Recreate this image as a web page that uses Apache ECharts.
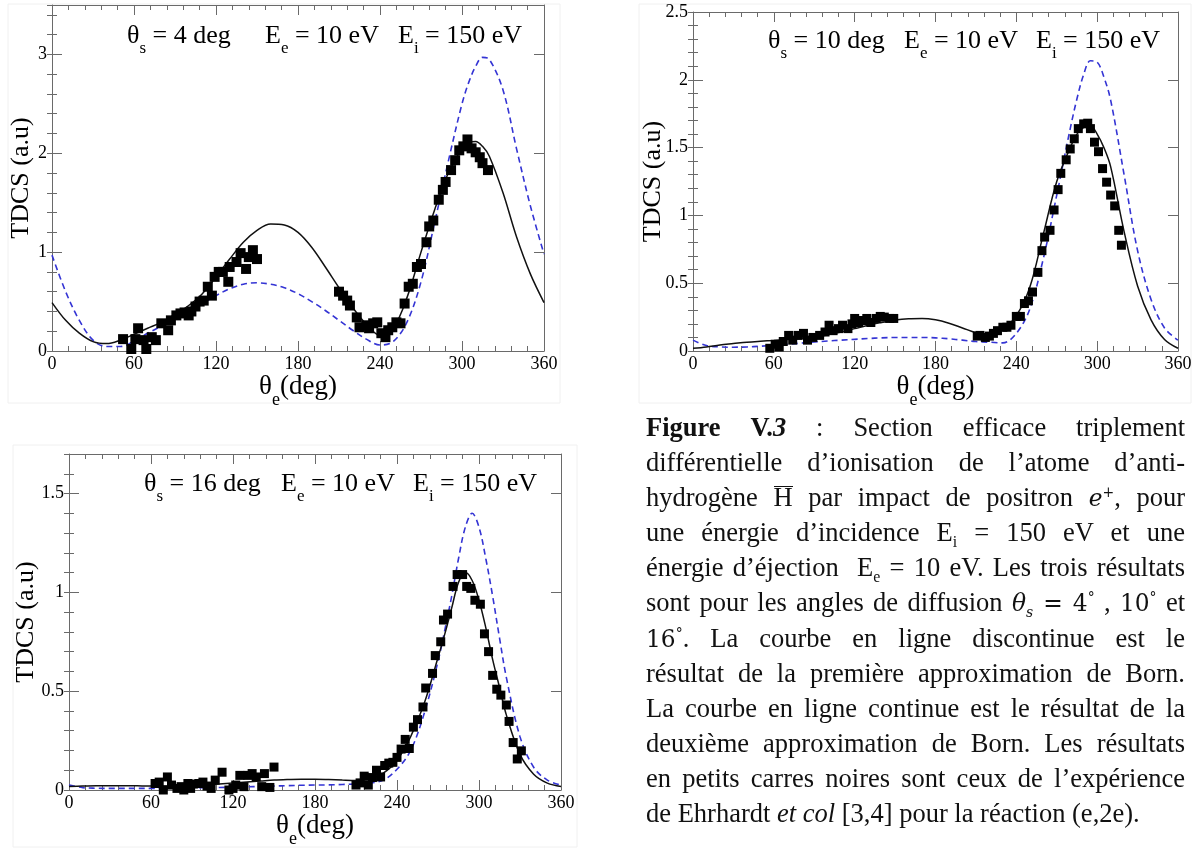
<!DOCTYPE html>
<html>
<head>
<meta charset="utf-8">
<script src="https://cdn.jsdelivr.net/npm/echarts@6/dist/echarts.min.js"></script>
<style>
html,body{margin:0;padding:0;background:#fff;}
#chart{position:absolute;left:0;top:0;width:1196px;height:849px;}
#cap{position:absolute;left:646px;top:410px;width:539px;font-family:"Liberation Serif","Times New Roman",serif;font-size:26.5px;color:#111;}
#cap div{height:35.1px;line-height:35.1px;text-align:justify;text-align-last:justify;}
#cap div.last{text-align-last:left;}
#cap sub,#cap sup{font-size:0.6em;line-height:0;}
#cap .m{font-family:"DejaVu Serif",serif;font-size:0.88em;}
#cap .ov{display:inline-block;line-height:0.72em;border-top:1.5px solid #111;padding-top:1px;}
</style>
</head>
<body>
<div id="chart"></div>
<div id="cap">
<div><b>Figure</b> <b>V.<i>3</i></b> : Section efficace triplement</div>
<div>différentielle d’ionisation de l’atome d’anti-</div>
<div>hydrogène <span class="ov">H</span> par impact de positron <span class="m"><i>e</i><sup>+</sup></span>, pour</div>
<div>une énergie d’incidence E<sub>i</sub> = 150 eV et une</div>
<div>énergie d’éjection &nbsp;E<sub>e</sub> = 10 eV. Les trois résultats</div>
<div>sont pour les angles de diffusion <span class="m"><i>θ<sub>s</sub></i> = 4<sup>°</sup></span> , <span class="m">10<sup>°</sup></span> et</div>
<div><span class="m">16<sup>°</sup></span>. La courbe en ligne discontinue est le</div>
<div>résultat de la première approximation de Born.</div>
<div>La courbe en ligne continue est le résultat de la</div>
<div>deuxième approximation de Born. Les résultats</div>
<div>en petits carres noires sont ceux de l’expérience</div>
<div class="last">de Ehrhardt <i>et col</i> [3,4] pour la réaction (e,2e).</div>
</div>
<script>
// ---------- DATA ----------
const xTicks = [0, 60, 120, 180, 240, 300, 360];
const yTicks4 = [0, 1, 2, 3];
const yTicks10 = [0, 0.5, 1, 1.5, 2, 2.5];
const yTicks16 = [0, 0.5, 1, 1.5];
const yMax4 = 3.5, yMax10 = 2.5, yMax16 = 1.7;

// theta_s = 4 deg
const th4 = [0,10,20,30,40,50,60,70,80,90,100,110,120,130,140,150,160,170,180,190,200,210,220,230,240,250,260,270,280,290,300,305,310,315,320,330,340,350,360];
const born2_4 = [0.49,0.31,0.18,0.095,0.075,0.11,0.17,0.23,0.29,0.37,0.46,0.58,0.75,0.93,1.10,1.22,1.285,1.275,1.20,1.05,0.85,0.64,0.44,0.27,0.16,0.24,0.55,1.00,1.43,1.80,2.05,2.11,2.12,2.07,1.97,1.60,1.15,0.78,0.49];
const born1_4 = [0.97,0.60,0.31,0.11,0.045,0.045,0.10,0.18,0.25,0.32,0.40,0.48,0.56,0.63,0.675,0.69,0.675,0.64,0.58,0.50,0.41,0.31,0.21,0.12,0.06,0.10,0.30,0.70,1.30,1.92,2.50,2.72,2.88,2.97,2.95,2.64,2.04,1.47,0.98];
const expTheta4 = [52,58,61,63,67,69,73,76,80,85,87,91,94,97,100,102,105,108,111,114,117,119,122,125,129,130,135,138,142,144,147,150,
  210,213,216,218,223,225,230,232,235,238,241,244,246,249,252,255,258,261,264,267,270,274,276,279,283,286,288,292,295,298,301,304,307,310,313,315,319];
const expTdcs4 = [0.12,0.02,0.12,0.23,0.11,0.02,0.14,0.11,0.28,0.21,0.31,0.36,0.38,0.39,0.36,0.40,0.45,0.50,0.51,0.65,0.56,0.75,0.80,0.80,0.70,0.85,0.90,0.99,0.83,0.95,1.02,0.93,
  0.60,0.56,0.51,0.46,0.34,0.24,0.26,0.23,0.28,0.29,0.18,0.14,0.21,0.24,0.29,0.28,0.48,0.65,0.68,0.85,0.88,1.10,1.26,1.32,1.53,1.63,1.71,1.83,1.93,2.03,2.07,2.14,2.05,2.01,1.96,1.90,1.83];

// theta_s = 10 deg
const th10 = [0,10,20,30,40,50,60,70,80,90,100,110,120,130,140,150,160,170,180,190,200,210,220,230,240,250,260,270,280,285,290,295,300,305,310,320,330,340,350,360];
const born2_10 = [0.02,0.03,0.045,0.055,0.065,0.072,0.078,0.085,0.092,0.10,0.12,0.14,0.165,0.19,0.21,0.228,0.238,0.24,0.23,0.205,0.17,0.135,0.12,0.16,0.26,0.47,0.86,1.25,1.50,1.60,1.65,1.66,1.60,1.50,1.36,0.88,0.48,0.23,0.085,0.02];
const born1_10 = [0.08,0.04,0.03,0.028,0.03,0.035,0.042,0.05,0.058,0.066,0.074,0.08,0.086,0.092,0.097,0.10,0.10,0.10,0.097,0.09,0.08,0.07,0.065,0.06,0.13,0.31,0.68,1.15,1.64,1.86,2.04,2.14,2.13,2.02,1.85,1.30,0.74,0.38,0.17,0.08];
const expTheta10 = [57,61,64,67,71,74,78,82,85,89,94,98,101,104,108,111,115,118,120,123,126,129,132,136,139,142,146,149,
  211,213,217,220,223,226,230,233,236,240,243,246,249,252,256,259,261,265,268,271,273,277,280,283,286,290,293,295,298,301,304,307,310,313,316,318];
const expTdcs10 = [0.02,0.05,0.03,0.07,0.115,0.08,0.115,0.13,0.08,0.10,0.115,0.14,0.19,0.15,0.165,0.19,0.165,0.20,0.24,0.21,0.225,0.24,0.21,0.24,0.255,0.25,0.24,0.24,
  0.11,0.115,0.10,0.11,0.13,0.15,0.175,0.175,0.19,0.255,0.255,0.35,0.37,0.435,0.58,0.74,0.84,0.89,1.04,1.19,1.31,1.41,1.49,1.565,1.64,1.675,1.68,1.64,1.54,1.47,1.345,1.245,1.15,1.07,0.89,0.78];

// theta_s = 16 deg
const th16 = [0,10,20,30,40,50,60,70,80,90,100,110,120,130,140,150,160,170,180,190,200,210,220,230,240,250,260,270,275,280,285,290,295,300,305,310,315,320,330,340,350,360];
const born2_16 = [0.018,0.02,0.022,0.022,0.022,0.021,0.02,0.02,0.021,0.023,0.026,0.03,0.035,0.04,0.045,0.05,0.053,0.055,0.055,0.053,0.05,0.048,0.055,0.085,0.15,0.27,0.44,0.67,0.79,0.92,1.05,1.10,1.06,0.96,0.82,0.66,0.52,0.38,0.18,0.08,0.035,0.018];
const born1_16 = [0.025,0.012,0.009,0.008,0.008,0.008,0.008,0.009,0.01,0.011,0.012,0.013,0.014,0.016,0.018,0.02,0.022,0.024,0.025,0.026,0.028,0.03,0.035,0.05,0.105,0.20,0.39,0.65,0.81,0.98,1.17,1.33,1.40,1.33,1.17,0.98,0.77,0.57,0.27,0.115,0.05,0.025];
const expTheta16 = [63,66,69,72,75,79,82,84,87,89,91,95,98,101,104,107,112,117,120,122,125,128,131,134,137,141,143,147,150,
  210,213,216,219,222,225,228,231,234,237,240,243,246,249,252,255,259,261,266,268,272,274,277,281,284,288,291,294,297,301,304,307,310,313,316,320,322,325,328,331];
const expTdcs16 = [0.033,0.04,0.0,0.066,0.025,0.008,0.017,0.0,0.033,0.008,0.03,0.033,0.04,0.02,0.008,0.05,0.09,0.0,0.008,0.025,0.074,0.017,0.074,0.083,0.066,0.017,0.083,0.013,0.116,
  0.025,0.036,0.07,0.025,0.063,0.10,0.066,0.124,0.136,0.14,0.165,0.207,0.256,0.21,0.318,0.356,0.42,0.516,0.59,0.68,0.75,0.86,0.89,1.03,1.09,1.09,1.03,1.02,0.96,0.94,0.79,0.70,0.58,0.51,0.48,0.43,0.347,0.24,0.157,0.198];

// ---------- BUILD ----------
const FONT = '"Liberation Serif","Times New Roman",serif';
const AX = '#6a6a6a';
const BLUE = '#3434d4';
const zip = (a, b) => a.map((v, i) => [v, b[i]]);

const grids = [
  {left: 52, top: 5, width: 492, height: 346},
  {left: 693, top: 12, width: 485, height: 339},
  {left: 69, top: 454, width: 492, height: 339}
];

const xAxes = [], yAxes = [], series = [];
const subRich = {
  t: {fontFamily: FONT, fontSize: 27, color: '#000', lineHeight: 30},
  s: {fontFamily: FONT, fontSize: 18, color: '#000', lineHeight: 18, padding: [26, 0, 0, 0]}
};

function addPanel(g, yT, yMax, yMinor, yNameGap, showMax, th, b2, b1, ex, ey, symSize) {
  const lineCommon = {show: true, onZero: false, lineStyle: {color: AX, width: 1}};
  const tickMajor = {show: true, inside: true, length: 10, lineStyle: {color: AX, width: 1}};
  const tickMinor = {show: true, inside: true, length: 5, lineStyle: {color: AX, width: 1}};
  const xBase = {gridIndex: g, type: 'value', min: xTicks[0], max: xTicks[xTicks.length - 1],
    interval: xTicks[1] - xTicks[0], splitLine: {show: false}, axisLine: lineCommon, axisTick: tickMajor,
    minorTick: {show: true, splitNumber: 5, length: 5, lineStyle: {color: AX, width: 1}}};
  xAxes.push(Object.assign({}, xBase, {position: 'bottom',
    axisLabel: {show: true, color: '#000', fontFamily: FONT, fontSize: 18, margin: 4, showMinLabel: true, showMaxLabel: true},
    name: '{t|θ}{s|e}{t|(deg)}', nameLocation: 'middle', nameGap: 21, nameMoveOverlap: false,
    nameTextStyle: {rich: subRich}}));
  xAxes.push(Object.assign({}, xBase, {position: 'top', axisLabel: {show: false}}));

  const yBase = {gridIndex: g, type: 'value', min: yT[0], max: yMax, splitLine: {show: false}};
  yAxes.push(Object.assign({}, yBase, {position: 'left', interval: yT[1] - yT[0], axisLine: lineCommon, axisTick: tickMajor,
    axisLabel: {show: true, color: '#000', fontFamily: FONT, fontSize: 18, margin: 5, showMinLabel: true, showMaxLabel: showMax},
    name: 'TDCS (a.u)', nameLocation: 'middle', nameRotate: 90, nameGap: yNameGap, nameMoveOverlap: false,
    nameTextStyle: {fontFamily: FONT, fontSize: 26, color: '#000'}}));
  yAxes.push(Object.assign({}, yBase, {position: 'left', interval: yMinor, axisLine: {show: false}, axisTick: tickMinor, axisLabel: {show: false}}));
  yAxes.push(Object.assign({}, yBase, {position: 'right', interval: yT[1] - yT[0], axisLine: lineCommon, axisTick: tickMajor, axisLabel: {show: false}}));
  yAxes.push(Object.assign({}, yBase, {position: 'right', interval: yMinor, axisLine: {show: false}, axisTick: tickMinor, axisLabel: {show: false}}));

  const xi = 2 * g, yi = 4 * g;
  series.push({type: 'line', name: 'Born 2', xAxisIndex: xi, yAxisIndex: yi, data: zip(th, b2), symbol: 'none', showSymbol: false,
    smooth: 0.35, lineStyle: {color: '#111', width: 1.5, type: 'solid'}, z: 3, silent: true});
  series.push({type: 'line', name: 'Born 1', xAxisIndex: xi, yAxisIndex: yi, data: zip(th, b1), symbol: 'none', showSymbol: false,
    smooth: 0.35, lineStyle: {color: BLUE, width: 1.6, type: [6, 4]}, z: 2, silent: true});
  series.push({type: 'scatter', name: 'Exp', xAxisIndex: xi, yAxisIndex: yi, data: zip(ex, ey), symbol: 'rect', symbolSize: symSize,
    itemStyle: {color: '#000', opacity: 1}, z: 4, silent: true});
}

addPanel(0, yTicks4, yMax4, 0.2, 18, false, th4, born2_4, born1_4, expTheta4, expTdcs4, 10);
addPanel(1, yTicks10, yMax10, 0.1, 27, true, th10, born2_10, born1_10, expTheta10, expTdcs10, 9);
addPanel(2, yTicks16, yMax16, 0.1, 30, false, th16, born2_16, born1_16, expTheta16, expTdcs16, 9);

const annRich = {
  t: {fontFamily: FONT, fontSize: 26, color: '#000', lineHeight: 30},
  s: {fontFamily: FONT, fontSize: 17, color: '#000', lineHeight: 17, padding: [26, 0, 0, 0]}
};
function ann(x, y, main, sub, rest) {
  return {type: 'text', x: x, y: y, silent: true, z: 10,
    style: {text: '{t|' + main + '}{s|' + sub + '}{t|' + rest + '}', rich: annRich, align: 'left', verticalAlign: 'top'}};
}
const frames = [
  [8, 4, 552, 399], [639, 4, 552, 399], [13, 445, 564, 402]
].map(r => ({type: 'rect', silent: true, z: 0, shape: {x: r[0], y: r[1], width: r[2], height: r[3]},
  style: {fill: 'none', stroke: '#f0f0f0', lineWidth: 1}}));

const option = {
  animation: false,
  backgroundColor: '#fff',
  textStyle: {fontFamily: FONT},
  grid: grids,
  xAxis: xAxes,
  yAxis: yAxes,
  series: series,
  graphic: frames.concat([
    ann(127, 21, 'θ', 's', ' = 4 deg'),
    ann(265, 21, 'E', 'e', ' = 10 eV'),
    ann(398, 21, 'E', 'i', ' = 150 eV'),
    ann(768, 26, 'θ', 's', ' = 10 deg'),
    ann(904, 26, 'E', 'e', ' = 10 eV'),
    ann(1036, 26, 'E', 'i', ' = 150 eV'),
    ann(144, 469, 'θ', 's', ' = 16 deg'),
    ann(281, 469, 'E', 'e', ' = 10 eV'),
    ann(413, 469, 'E', 'i', ' = 150 eV')
  ])
};
const chart = echarts.init(document.getElementById('chart'), null, {renderer: 'canvas'});
chart.setOption(option);
</script>
</body>
</html>
